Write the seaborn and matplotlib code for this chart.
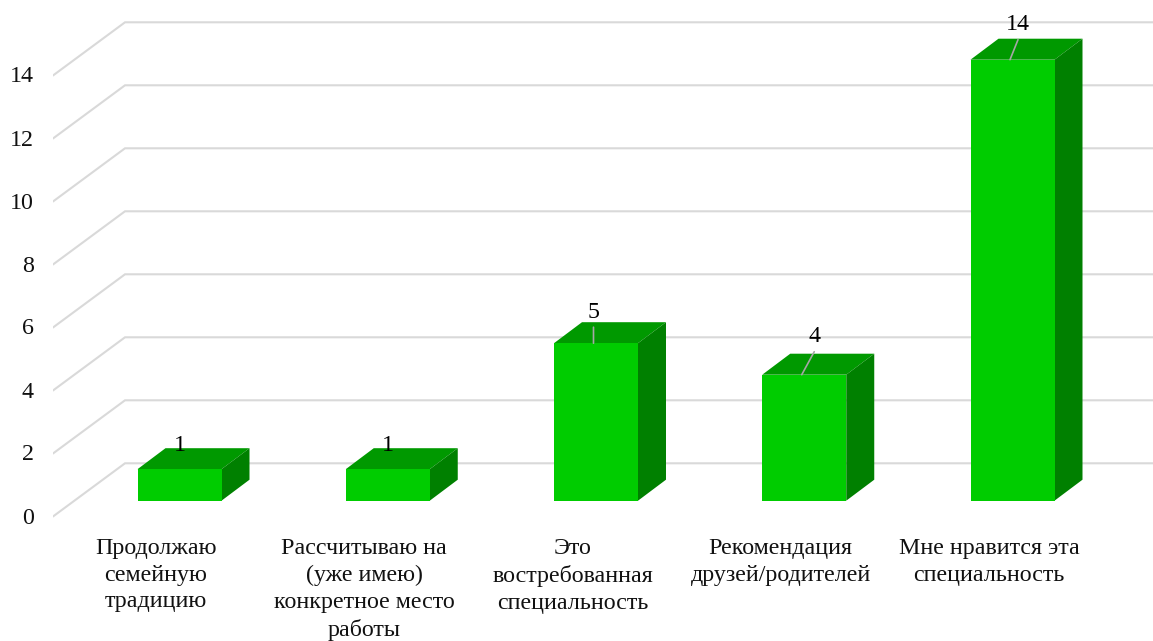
import matplotlib
matplotlib.use("Agg")
import matplotlib.pyplot as plt
from matplotlib.transforms import ScaledTranslation
import seaborn as sns

categories = ["Продолжаю\nсемейную\nтрадицию",
              "Рассчитываю на\n(уже имею)\nконкретное место\nработы",
              "Это\nвостребованная\nспециальность",
              "Рекомендация\nдрузей/родителей",
              "Мне нравится эта\nспециальность"]
values = [1, 1, 5, 4, 14]
y_ticks = [0, 2, 4, 6, 8, 10, 12, 14]

# label placement relative to each bar's top front edge (pixels): styling only
label_offsets = [(2.5, -24), (2.5, -24), (0.5, -31), (12.5, -38), (8, -35)]
leader_ends = [None, None, (0, -16), (12.5, -23), (8, -20)]

W, H = 1153, 641
X0, X1, PXI, UNITW = 53, 1153, 179.5, 208.25
Y0PX, UNITH, AX_BOTTOM = 500.7, 31.5, 520
FRONT, TOP, SIDE = "#00CC00", "#009900", "#008000"
GRID = "#D9D9D9"
FS = 17.3

sns.set_theme(style="white")
plt.rcParams["font.family"] = ["Liberation Serif", "DejaVu Serif"]

fig = plt.figure(figsize=(W / 100, H / 100), dpi=100, facecolor="white")
ax = fig.add_axes([X0 / W, (H - AX_BOTTOM) / H, (X1 - X0) / W, AX_BOTTOM / H])

sns.barplot(x=list(range(len(values))), y=values, color=FRONT, saturation=1,
            width=84 / UNITW, ax=ax, zorder=3, linewidth=0)

xlim = ((X0 - PXI) / UNITW, (X1 - PXI) / UNITW)
ylim = ((Y0PX - AX_BOTTOM) / UNITH, Y0PX / UNITH)
ax.set_xlim(*xlim)
ax.set_ylim(*ylim)

# receding wall/floor gridlines
front_dy = (Y0PX - 516.5) / UNITH
back_dy = (Y0PX - 463.3) / UNITH
back_x = (125 - PXI) / UNITW
for v in y_ticks:
    ax.plot([xlim[0], back_x, xlim[1]], [v + front_dy, v + back_dy, v + back_dy],
            color=GRID, lw=1.5, zorder=1, solid_joinstyle="miter", clip_on=True)

# 3D faces of the bars
ddx, ddy = 28 / UNITW, 21 / UNITH
half = 42 / UNITW
for i, v in enumerate(values):
    l, r = i - half, i + half
    ax.fill([l, r, r + ddx, l + ddx], [v, v, v + ddy, v + ddy], color=TOP, lw=0, zorder=2.5)
    ax.fill([r, r + ddx, r + ddx, r], [0, ddy, v + ddy, v], color=SIDE, lw=0, zorder=2.5)

# data labels with leader lines
for i, v in enumerate(values):
    xy = (i - 2.5 / UNITW, v)
    off = label_offsets[i]
    ax.annotate(str(v), xy=xy, xytext=(off[0], -off[1]), textcoords="offset pixels",
                ha="center", va="center", fontsize=FS, color="black", zorder=6)
    end = leader_ends[i]
    if end is not None:
        ax.annotate("", xy=xy, xytext=(end[0], -end[1]), textcoords="offset pixels", zorder=5,
                    arrowprops=dict(arrowstyle="-", color="#A6A6A6", lw=1.2, shrinkA=0, shrinkB=0))

# axes ticks
ax.set_xticks(range(len(categories)))
ax.set_xticklabels(categories, fontsize=FS, color="#111111", linespacing=1.353)
ax.set_yticks(y_ticks)
ax.set_yticklabels([str(t) for t in y_ticks], fontsize=FS, color="#111111")
ax.tick_params(axis="x", length=0, pad=13)
ax.tick_params(axis="y", length=0, pad=14)
xshift = ScaledTranslation(-23.5 / 100, 0, fig.dpi_scale_trans)
yshift = ScaledTranslation(0, (front_dy * UNITH + 1) / 100, fig.dpi_scale_trans)
for lab in ax.get_xticklabels():
    lab.set_transform(lab.get_transform() + xshift)
for lab in ax.get_yticklabels():
    lab.set_transform(lab.get_transform() + yshift)
ax.set_xlabel("")
ax.set_ylabel("")
sns.despine(ax=ax, left=True, bottom=True)
ax.patch.set_alpha(0)

fig.savefig("out.png", dpi=100, facecolor="white")
